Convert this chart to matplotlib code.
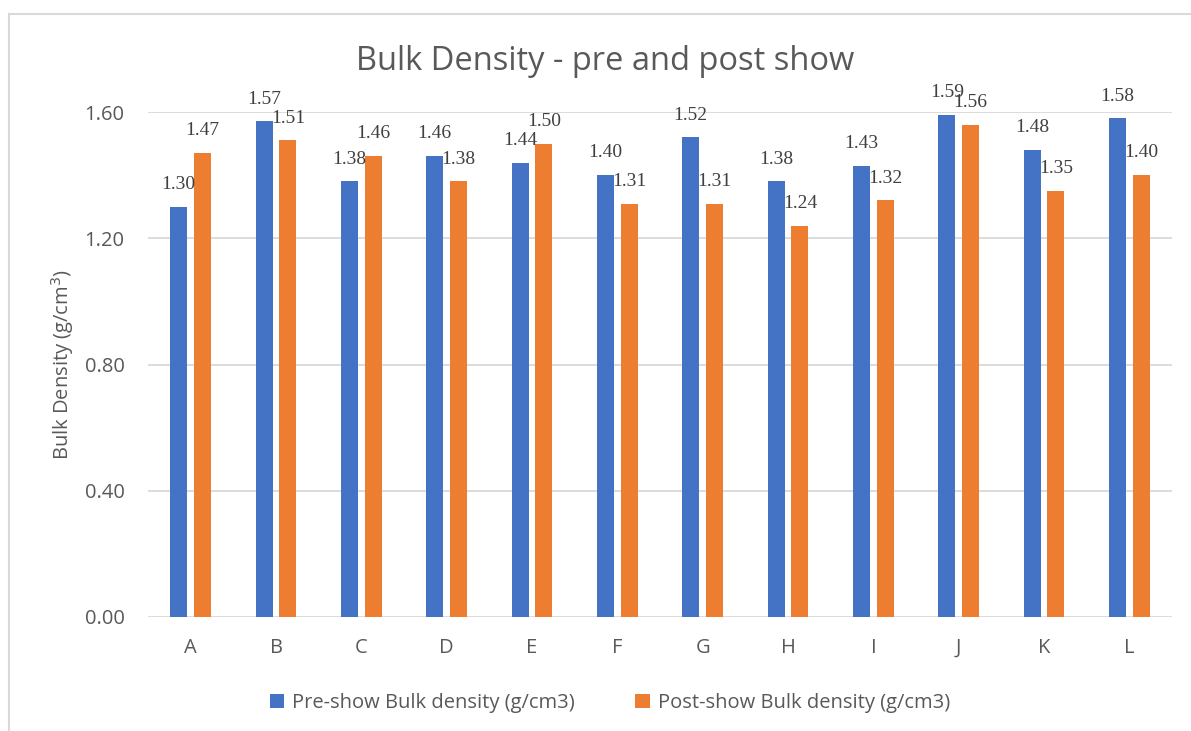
import matplotlib
matplotlib.use('agg')
import matplotlib.pyplot as plt
from matplotlib.lines import Line2D
import numpy as np

sites = ['A', 'B', 'C', 'D', 'E', 'F', 'G', 'H', 'I', 'J', 'K', 'L']
pre_show = [1.30, 1.57, 1.38, 1.46, 1.44, 1.40, 1.52, 1.38, 1.43, 1.59, 1.48, 1.58]
post_show = [1.47, 1.51, 1.46, 1.38, 1.50, 1.31, 1.31, 1.24, 1.32, 1.56, 1.35, 1.40]
yticks = [0.00, 0.40, 0.80, 1.20, 1.60]

blue = '#4472C4'
orange = '#ED7D31'
grey_txt = '#595959'
grid_c = '#D9D9D9'

plt.rcParams['font.family'] = ['Open Sans', 'DejaVu Sans']

fig = plt.figure(figsize=(11.91, 7.31), dpi=100)
ax = fig.add_axes([148/1191, 1-617/731, (1172-148)/1191, (617-112)/731])

x = np.arange(len(sites))
w = 0.2
off = 0.14
b1 = ax.bar(x - off, pre_show, w, color=blue, label='Pre-show Bulk density (g/cm3)', zorder=3)
b2 = ax.bar(x + off, post_show, w, color=orange, label='Post-show Bulk density (g/cm3)', zorder=3)

for bars in (b1, b2):
    for r in bars:
        ax.annotate(f'{r.get_height():.2f}', (r.get_x() + r.get_width()/2, r.get_height()),
                    xytext=(0, 16), textcoords='offset points', ha='center', va='center',
                    fontsize=14, family='Liberation Serif', color='#404040', zorder=4)

ax.set_xlim(-0.5, len(sites) - 0.5)
ax.set_ylim(0, 1.6)
ax.set_yticks(yticks)
ax.set_yticklabels([f'{v:.2f}' for v in yticks])
ax.set_xticks(x)
ax.set_xticklabels(sites)
ax.tick_params(length=0, labelsize=14.5, colors=grey_txt)
ax.tick_params(axis='x', pad=15)
ax.tick_params(axis='y', pad=17)
ax.yaxis.grid(True, color=grid_c, linewidth=1.3, zorder=0)
for s in ax.spines.values():
    s.set_visible(False)
ax.set_ylabel('Bulk Density (g/cm$^3$)', fontsize=14.5, color=grey_txt, labelpad=6)

fig.text(605/1191, 1-61/731, 'Bulk Density - pre and post show', ha='center', va='center',
         fontsize=23.5, color=grey_txt)

fig.legend(handles=[b1, b2], loc='center', bbox_to_anchor=(610/1191, 1-703/731), ncol=2,
           frameon=False, fontsize=14.5, labelcolor=grey_txt, handlelength=0.7, handleheight=0.7,
           columnspacing=3.0, handletextpad=0.4)

# chart frame (only left and top edges are visible in the crop)
fig.add_artist(Line2D([8.5/1191, 8.5/1191], [0, 1-14/731], color=grid_c, linewidth=1.5))
fig.add_artist(Line2D([8.5/1191, 1], [1-14/731, 1-14/731], color=grid_c, linewidth=1.5))

fig.savefig('out.png', dpi=100)
